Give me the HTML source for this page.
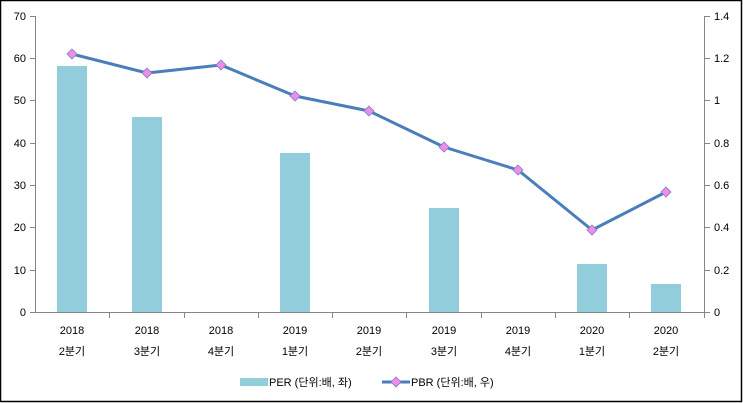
<!DOCTYPE html>
<html><head><meta charset="utf-8"><style>
html,body{margin:0;padding:0;background:#fff}
svg{display:block;font-family:"Liberation Sans","Noto Sans CJK KR",sans-serif;font-size:11px}
</style></head><body>
<svg width="743" height="403" viewBox="0 0 743 403" xmlns="http://www.w3.org/2000/svg">
<rect x="0.5" y="0.5" width="741" height="401" fill="#fff" stroke="#000" stroke-width="1.5"/>
<g fill="#92CDDC">
<rect x="57" y="66" width="30" height="246"/>
<rect x="132" y="117" width="30" height="195"/>
<rect x="280" y="153" width="30" height="159"/>
<rect x="429" y="208" width="30" height="104"/>
<rect x="577" y="264" width="30" height="48"/>
<rect x="651" y="284" width="30" height="28"/>
</g>
<g stroke="#868686" stroke-width="1" fill="none">
<path d="M35.5 16V312.5M30 16.5H35.5M30 58.5H35.5M30 100.5H35.5M30 143.5H35.5M30 185.5H35.5M30 227.5H35.5M30 270.5H35.5M30 312.5H35.5"/>
<path d="M704.5 16V312.5M704 16.5H710M704 58.5H710M704 100.5H710M704 143.5H710M704 185.5H710M704 227.5H710M704 270.5H710M704 312.5H710"/>
<path d="M35 312.5H704M109.5 312V318M184.5 312V318M258.5 312V318M332.5 312V318M406.5 312V318M481.5 312V318M555.5 312V318M629.5 312V318M704.5 312V318"/>
</g>
<g fill="#000" text-anchor="end">
<text x="26" y="20">70</text><text x="26" y="62">60</text><text x="26" y="104">50</text><text x="26" y="147">40</text><text x="26" y="189">30</text><text x="26" y="231">20</text><text x="26" y="274">10</text><text x="26" y="316">0</text>
</g>
<g fill="#000">
<text x="714" y="20">1.4</text><text x="714" y="62">1.2</text><text x="714" y="104">1</text><text x="714" y="147">0.8</text><text x="714" y="189">0.6</text><text x="714" y="231">0.4</text><text x="714" y="274">0.2</text><text x="714" y="316">0</text>
</g>
<g fill="#000" text-anchor="middle">
<text x="72" y="334">2018</text><text x="72" y="355">2분기</text>
<text x="147" y="334">2018</text><text x="147" y="355">3분기</text>
<text x="221" y="334">2018</text><text x="221" y="355">4분기</text>
<text x="295" y="334">2019</text><text x="295" y="355">1분기</text>
<text x="369" y="334">2019</text><text x="369" y="355">2분기</text>
<text x="444" y="334">2019</text><text x="444" y="355">3분기</text>
<text x="518" y="334">2019</text><text x="518" y="355">4분기</text>
<text x="592" y="334">2020</text><text x="592" y="355">1분기</text>
<text x="666" y="334">2020</text><text x="666" y="355">2분기</text>
</g>
<polyline points="72,54 147,73 221,65 295,96 369,111 444,147 518,170 592,230 666,192" fill="none" stroke="#4A7EBB" stroke-width="3" stroke-linejoin="round"/>
<g fill="#F08CE6" stroke="#7A7FD0" stroke-width="0.8">
<path d="M72 49l5 5-5 5-5-5z"/><path d="M147 68l5 5-5 5-5-5z"/><path d="M221 60l5 5-5 5-5-5z"/>
<path d="M295 91l5 5-5 5-5-5z"/><path d="M369 106l5 5-5 5-5-5z"/><path d="M444 142l5 5-5 5-5-5z"/>
<path d="M518 165l5 5-5 5-5-5z"/><path d="M592 225l5 5-5 5-5-5z"/><path d="M666 187l5 5-5 5-5-5z"/>
</g>
<rect x="240" y="378" width="28" height="8" fill="#92CDDC"/>
<text x="269" y="386" fill="#000">PER (단위:배, 좌)</text>
<line x1="382" y1="382" x2="410" y2="382" stroke="#4A7EBB" stroke-width="3"/>
<path d="M396 377l5 5-5 5-5-5z" fill="#F08CE6" stroke="#7A7FD0" stroke-width="0.8"/>
<text x="411" y="386" fill="#000">PBR (단위:배, 우)</text>
</svg>
</body></html>
